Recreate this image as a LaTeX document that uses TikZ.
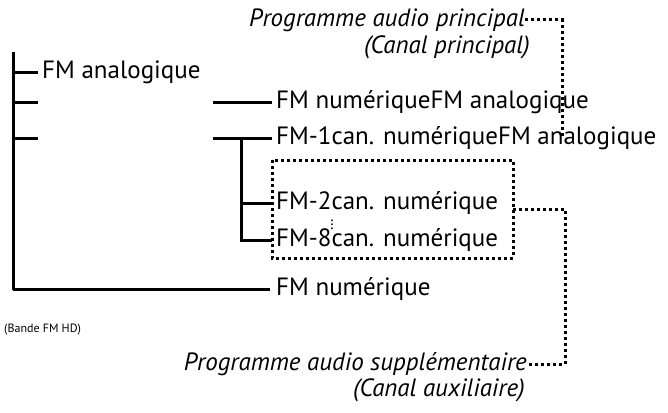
\documentclass[tikz,border=0pt]{standalone}
\usepackage{fontspec}
\setmainfont{PT Sans}
\begin{document}
\begin{tikzpicture}[x=1pt,y=-1pt,
  tree/.style={line width=3pt},
  link/.style={line width=3pt, dash pattern=on 3pt off 3pt},
  lbl/.style={anchor=west, inner sep=0pt, font=\fontsize{25}{27}\selectfont},
  note/.style={anchor=east, inner sep=0pt, font=\fontsize{25}{27}\selectfont\itshape}]
  \useasboundingbox (0,0) rectangle (668,412);

  % main tree
  \coordinate (top) at (13,52);
  \coordinate (bot) at (13,290);
  \draw[tree] (top) -- (bot);
  \node[lbl] (fma) at (42,72) {FM analogique};
  \draw[tree] (13,72) -- (38,72);
  \draw[tree] (13,102) -- (38,102);
  \draw[tree] (13,138) -- (38,138);
  \node[lbl] (fmd) at (276,289) {FM numérique};
  \draw[tree] (13,289) -- (270,289);

  % second level
  \node[lbl] (hd1) at (276,102) {FM numériqueFM analogique};
  \node[lbl] (hd2) at (276,138) {FM-1can. numériqueFM analogique};
  \draw[tree] (213,102) -- (272,102);
  \draw[tree] (213,138) -- (272,138);
  \node[lbl] (ch2) at (276,203) {FM-2can. numérique};
  \node[lbl] (ch8) at (276,240) {FM-8can. numérique};
  \node[inner sep=0pt, font=\fontsize{16}{16}\selectfont] (vd) at (332,222) {$\vdots$};
  \draw[tree] (241,138) -- (241,240) -- (272,240);
  \draw[tree] (241,203) -- (272,203);
  \node[inner sep=0pt, font=\fontsize{12}{13}\selectfont, anchor=west] (band) at (4,330) {(Bande FM HD)};

  % audio programmes
  \draw[link] (272,160) rectangle (513,258);
  \node[note] (pri) at (525,20) {Programme audio principal};
  \node[note] (pri2) at (530,47) {(Canal principal)};
  \draw[link] (pri.east) -- (562,20) -- (562,138);
  \node[note] (aux) at (527,364) {Programme audio supplémentaire};
  \node[note] (aux2) at (525,390) {(Canal auxiliaire)};
  \draw[link] (513,209) -- (565,209) -- (565,364) -- (aux.east);
\end{tikzpicture}
\end{document}
